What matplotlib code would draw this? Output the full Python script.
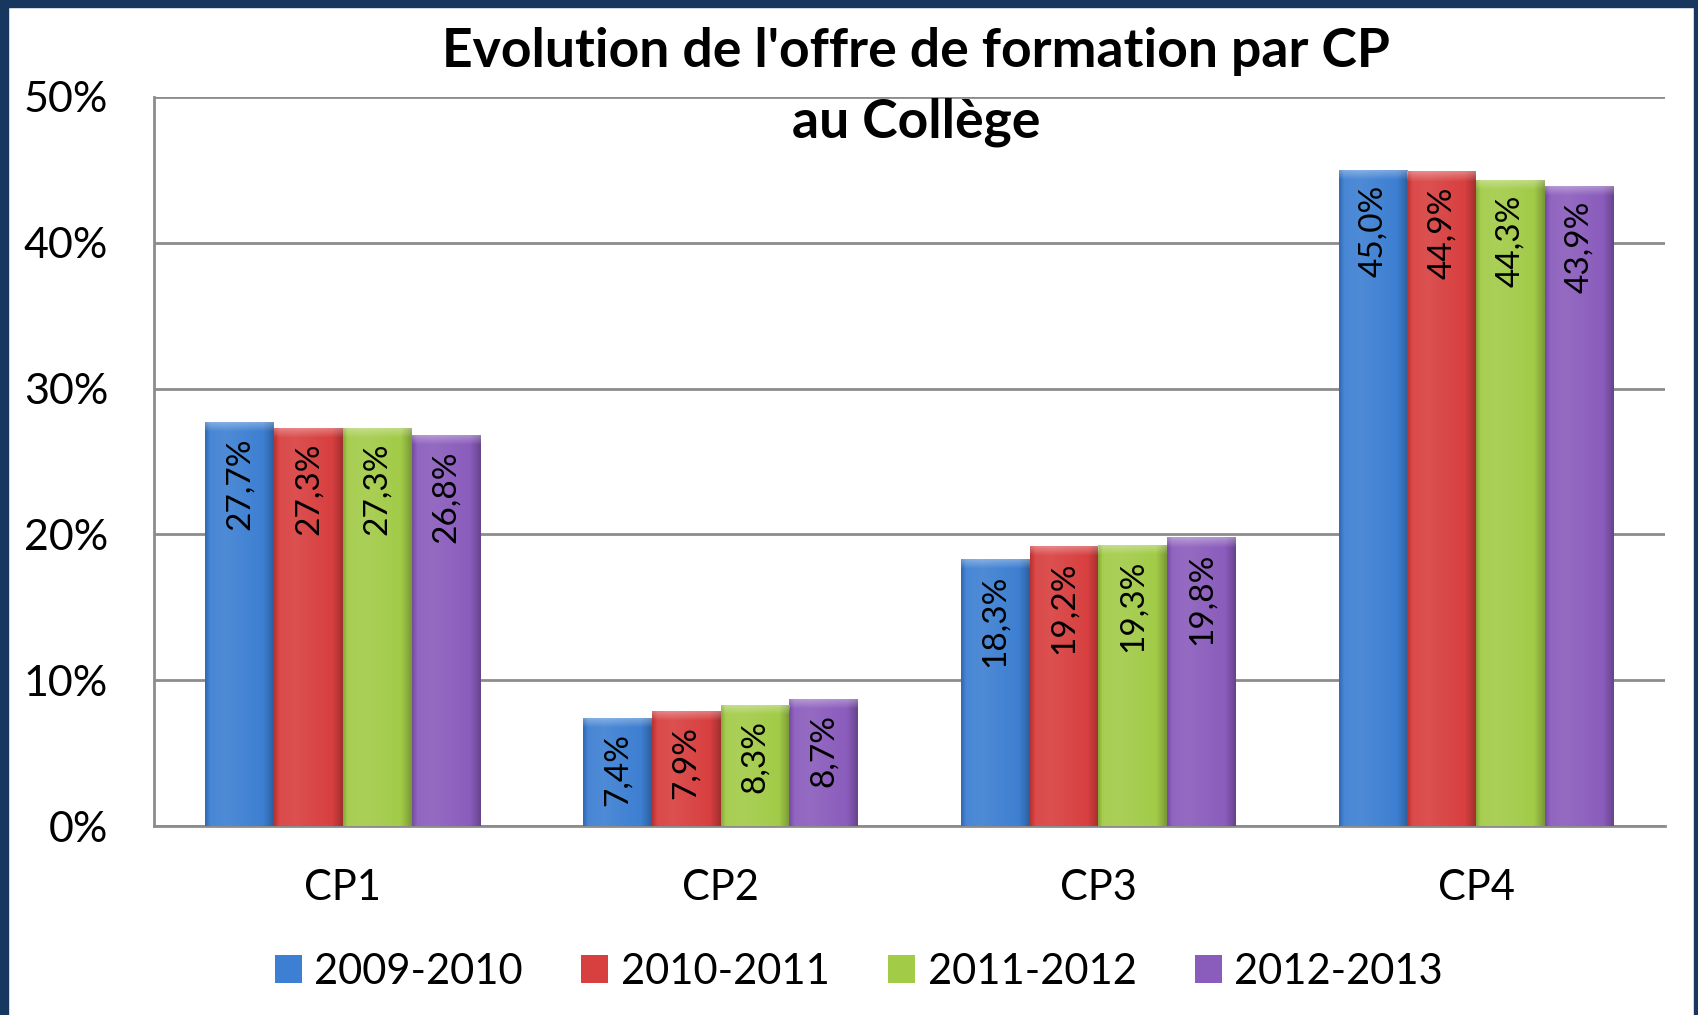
import numpy as np
import matplotlib
matplotlib.use('Agg')
import matplotlib.pyplot as plt
from matplotlib.patches import Rectangle
from matplotlib.colors import to_rgb

categories = ['CP1', 'CP2', 'CP3', 'CP4']
years = ['2009-2010', '2010-2011', '2011-2012', '2012-2013']
v_2009 = [27.7, 7.4, 18.3, 45.0]
v_2010 = [27.3, 7.9, 19.2, 44.9]
v_2011 = [27.3, 8.3, 19.3, 44.3]
v_2012 = [26.8, 8.7, 19.8, 43.9]
series = [v_2009, v_2010, v_2011, v_2012]
yticks = [0, 10, 20, 30, 40, 50]
colors = ['#3d7fd2', '#d83f3f', '#a2cb48', '#8a5cbc']

plt.rcParams['font.family'] = ['Lato', 'DejaVu Sans']

W, H = 1699, 1015
fig = plt.figure(figsize=(W / 100, H / 100), dpi=100)
ax = fig.add_axes([154 / W, 1 - 826 / H, (1665 - 154) / W, (826 - 97) / H])


def bar_image(color):
    base = np.array(to_rgb(color))
    nx = 40
    u = np.linspace(0, 1, nx)
    # horizontal shading: darker at both edges, a bit lighter left of centre
    fx = np.interp(u, [0, 0.06, 0.3, 0.85, 0.95, 1], [0.85, 1.04, 1.06, 1.0, 0.85, 0.75])
    img = np.zeros((2, nx, 3))
    for j in range(nx):
        f = fx[j]
        if f >= 1:
            c = base + (1 - base) * (f - 1) * 1.5
        else:
            c = base * f
        img[:, j, :] = np.clip(c, 0, 1)
    return img


def top_bevel():
    # white, fading downwards
    img = np.ones((20, 2, 4))
    img[:, :, 3] = np.linspace(0.35, 0.0, 20)[:, None]
    return img


x = np.arange(len(categories))
width = 0.182
bevel = top_bevel()
for i, (vals, col) in enumerate(zip(series, colors)):
    pos = x + (i - 1.5) * width
    bars = ax.bar(pos, vals, width, color=col, edgecolor='none', zorder=3, label=years[i])
    img = bar_image(col)
    for b, v in zip(bars, vals):
        x0 = b.get_x()
        im = ax.imshow(img, extent=[x0, x0 + width, 0, v], aspect='auto', zorder=3.1,
                       interpolation='bilinear')
        im.set_clip_path(b)
        bv = ax.imshow(bevel, extent=[x0, x0 + width, v - 0.7, v], aspect='auto', zorder=3.2,
                       interpolation='bilinear')
        bv.set_clip_path(b)
        ax.annotate(f"{v:.1f}".replace('.', ',') + '%', (x0 + width / 2, v),
                    xytext=(0, -15), textcoords='offset pixels', rotation=90,
                    ha='center', va='top', fontsize=24, color='black', zorder=4)

ax.set_xlim(-0.5, 3.5)
ax.set_ylim(0, 50)
ax.set_yticks(yticks)
ax.set_yticklabels([f"{t}%" for t in yticks], fontsize=31)
ax.set_xticks(x)
ax.set_xticklabels(categories, fontsize=30)
ax.tick_params(length=0)
ax.tick_params(axis='y', pad=33)
ax.tick_params(axis='x', pad=31)
ax.grid(axis='y', color='#8c8c8c', linewidth=2, zorder=0)
ax.set_axisbelow(True)
for s in ['top', 'right']:
    ax.spines[s].set_visible(False)
ax.spines['left'].set_color('#8c8c8c')
ax.spines['left'].set_linewidth(2)
ax.spines['bottom'].set_color('#8c8c8c')
ax.spines['bottom'].set_linewidth(2)

fig.text(916 / W, 1 - 52 / H, "Evolution de l'offre de formation par CP",
         ha='center', va='center', fontsize=38.5, fontweight='bold')
fig.text(916 / W, 1 - 122 / H, "au Collège",
         ha='center', va='center', fontsize=38.5, fontweight='bold')

handles = [Rectangle((0, 0), 1, 1, facecolor=c, edgecolor='none') for c in colors]
fig.legend(handles, years, loc='center', bbox_to_anchor=(859 / W, 1 - 972 / H), ncol=4,
           frameon=False, fontsize=30, handlelength=0.65, handleheight=0.65,
           handletextpad=0.3, columnspacing=1.4)

# dark navy frame
navy = '#17375e'
fig.patches.append(Rectangle((0, 0), 8 / W, 1, transform=fig.transFigure, color=navy))
fig.patches.append(Rectangle((0, 1 - 7 / H), 1, 7 / H, transform=fig.transFigure, color=navy))
fig.patches.append(Rectangle((1 - 5 / W, 0), 5 / W, 1, transform=fig.transFigure, color=navy))

fig.savefig('out.png', dpi=100)
